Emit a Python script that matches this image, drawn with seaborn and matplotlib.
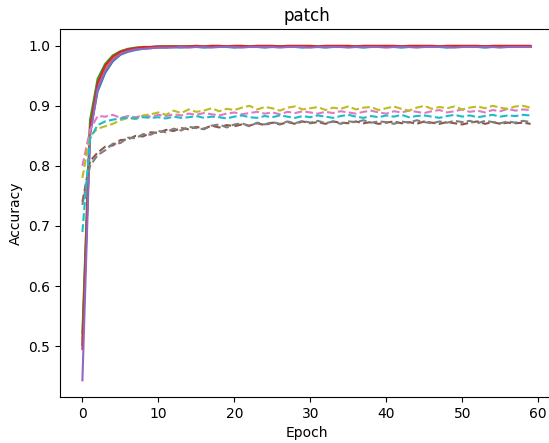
import matplotlib
matplotlib.use("Agg")
import matplotlib.pyplot as plt
import seaborn as sns

epochs = list(range(60))

# training accuracy per run (solid lines)
train_blue = [0.502, 0.855, 0.924, 0.955, 0.974, 0.985, 0.990, 0.993, 0.995, 0.996,
              0.997, 0.997, 0.998, 0.997, 0.998, 0.998, 0.997, 0.998, 0.998, 0.998,
              0.997, 0.998, 0.998, 0.998, 0.997, 0.998, 0.998, 0.998, 0.998, 0.997,
              0.998, 0.998, 0.997, 0.998, 0.998, 0.998, 0.998, 0.997, 0.998, 0.998,
              0.998, 0.998, 0.997, 0.998, 0.998, 0.998, 0.998, 0.998, 0.997, 0.998,
              0.998, 0.998, 0.998, 0.997, 0.998, 0.998, 0.998, 0.998, 0.998, 0.998]
train_orange = [0.512, 0.866, 0.935, 0.963, 0.979, 0.988, 0.993, 0.995, 0.997, 0.998,
                0.998, 0.998, 0.999, 0.998, 0.999, 0.999, 0.998, 0.999, 0.999, 0.999,
                0.998, 0.999, 0.999, 0.999, 0.999, 0.998, 0.999, 0.999, 0.999, 0.999,
                0.999, 0.998, 0.999, 0.999, 0.999, 0.999, 0.999, 0.999, 0.998, 0.999,
                0.999, 0.999, 0.999, 0.999, 0.999, 0.998, 0.999, 0.999, 0.999, 0.999,
                0.999, 0.999, 0.999, 0.999, 0.998, 0.999, 0.999, 0.999, 0.999, 0.999]
train_green = [0.522, 0.876, 0.945, 0.970, 0.984, 0.991, 0.995, 0.997, 0.998, 0.998,
               0.999, 0.999, 0.999, 0.999, 0.999, 0.999, 0.999, 0.999, 0.999, 0.999,
               0.999, 0.999, 0.999, 0.999, 0.999, 0.999, 0.999, 0.999, 0.999, 0.999,
               0.999, 0.999, 0.999, 0.999, 0.999, 0.999, 0.999, 0.999, 0.999, 0.999,
               0.999, 0.999, 0.999, 0.999, 0.999, 0.999, 0.999, 0.999, 0.999, 0.999,
               0.999, 0.999, 0.999, 0.999, 0.999, 0.999, 0.999, 0.999, 0.999, 0.999]
train_red = [0.495, 0.862, 0.938, 0.967, 0.982, 0.990, 0.994, 0.996, 0.998, 0.998,
             0.999, 0.999, 0.999, 0.999, 0.999, 1.000, 0.999, 1.000, 1.000, 0.999,
             1.000, 1.000, 0.999, 1.000, 1.000, 1.000, 0.999, 1.000, 1.000, 1.000,
             1.000, 0.999, 1.000, 1.000, 1.000, 1.000, 0.999, 1.000, 1.000, 1.000,
             1.000, 1.000, 0.999, 1.000, 1.000, 1.000, 1.000, 0.999, 1.000, 1.000,
             1.000, 1.000, 1.000, 0.999, 1.000, 1.000, 1.000, 1.000, 1.000, 1.000]
train_purple = [0.443, 0.850, 0.928, 0.958, 0.976, 0.986, 0.991, 0.994, 0.995, 0.996,
                0.997, 0.997, 0.997, 0.998, 0.997, 0.998, 0.998, 0.997, 0.998, 0.998,
                0.998, 0.997, 0.998, 0.998, 0.998, 0.998, 0.997, 0.998, 0.998, 0.998,
                0.997, 0.998, 0.998, 0.998, 0.998, 0.997, 0.998, 0.998, 0.998, 0.998,
                0.997, 0.998, 0.998, 0.998, 0.997, 0.998, 0.998, 0.998, 0.998, 0.997,
                0.998, 0.998, 0.998, 0.998, 0.998, 0.997, 0.998, 0.998, 0.998, 0.998]

# validation accuracy per run (dashed lines)
val_brown = [0.740, 0.808, 0.822, 0.832, 0.834, 0.843, 0.844, 0.850, 0.849, 0.856,
             0.855, 0.860, 0.858, 0.863, 0.861, 0.865, 0.862, 0.867, 0.864, 0.868,
             0.866, 0.869, 0.867, 0.871, 0.868, 0.872, 0.869, 0.873, 0.870, 0.874,
             0.871, 0.873, 0.870, 0.874, 0.872, 0.871, 0.874, 0.871, 0.873, 0.870,
             0.872, 0.874, 0.871, 0.873, 0.870, 0.874, 0.872, 0.870, 0.873, 0.871,
             0.869, 0.872, 0.874, 0.870, 0.873, 0.870, 0.872, 0.871, 0.872, 0.870]
val_pink = [0.800, 0.860, 0.883, 0.882, 0.885, 0.880, 0.883, 0.881, 0.884, 0.882,
            0.885, 0.883, 0.886, 0.884, 0.887, 0.885, 0.888, 0.886, 0.884, 0.887,
            0.889, 0.886, 0.888, 0.890, 0.887, 0.889, 0.886, 0.890, 0.888, 0.891,
            0.889, 0.887, 0.890, 0.888, 0.891, 0.889, 0.887, 0.890, 0.892, 0.889,
            0.887, 0.891, 0.889, 0.892, 0.890, 0.888, 0.891, 0.893, 0.889, 0.891,
            0.894, 0.890, 0.892, 0.889, 0.893, 0.891, 0.895, 0.892, 0.894, 0.893]
val_gray = [0.735, 0.800, 0.818, 0.826, 0.837, 0.838, 0.847, 0.846, 0.853, 0.852,
            0.858, 0.856, 0.862, 0.859, 0.865, 0.863, 0.861, 0.867, 0.869, 0.864,
            0.869, 0.871, 0.866, 0.872, 0.869, 0.873, 0.870, 0.874, 0.871, 0.875,
            0.872, 0.875, 0.871, 0.874, 0.870, 0.874, 0.873, 0.876, 0.872, 0.874,
            0.873, 0.870, 0.874, 0.872, 0.876, 0.873, 0.871, 0.874, 0.872, 0.875,
            0.873, 0.875, 0.871, 0.875, 0.873, 0.871, 0.874, 0.872, 0.875, 0.873]
val_olive = [0.780, 0.850, 0.862, 0.866, 0.870, 0.876, 0.880, 0.878, 0.884, 0.886,
             0.889, 0.885, 0.892, 0.888, 0.894, 0.890, 0.892, 0.896, 0.891, 0.895,
             0.893, 0.897, 0.900, 0.894, 0.898, 0.896, 0.892, 0.897, 0.899, 0.894,
             0.896, 0.898, 0.893, 0.897, 0.895, 0.899, 0.894, 0.897, 0.898, 0.893,
             0.896, 0.899, 0.895, 0.892, 0.897, 0.900, 0.895, 0.898, 0.896, 0.899,
             0.894, 0.897, 0.899, 0.896, 0.900, 0.897, 0.895, 0.899, 0.900, 0.897]
val_cyan = [0.690, 0.845, 0.868, 0.874, 0.877, 0.879, 0.880, 0.879, 0.881, 0.880,
            0.881, 0.879, 0.882, 0.880, 0.881, 0.883, 0.880, 0.882, 0.881, 0.879,
            0.882, 0.884, 0.881, 0.880, 0.883, 0.881, 0.884, 0.882, 0.880, 0.883,
            0.881, 0.884, 0.882, 0.880, 0.883, 0.885, 0.882, 0.880, 0.883, 0.881,
            0.884, 0.882, 0.885, 0.881, 0.883, 0.884, 0.882, 0.880, 0.883, 0.885,
            0.882, 0.884, 0.881, 0.883, 0.885, 0.882, 0.884, 0.883, 0.885, 0.884]

train_runs = [train_blue, train_orange, train_green, train_red, train_purple]
val_runs = [val_brown, val_pink, val_gray, val_olive, val_cyan]

palette = sns.color_palette("tab10", 10)

fig = plt.figure(figsize=(5.49, 4.43), dpi=100)
# the axes box runs past the right edge of the canvas
ax = fig.add_axes([0.1093, 0.1038, 0.898, 0.8307])

for i, run in enumerate(train_runs):
    sns.lineplot(x=epochs, y=run, ax=ax, color=palette[i], linewidth=1.5)
for i, run in enumerate(val_runs):
    sns.lineplot(x=epochs, y=run, ax=ax, color=palette[5 + i], linewidth=1.5,
                 linestyle="--")

ax.set_xlim(-2.95, 61.95)
ax.set_ylim(0.4152, 1.0279)
ax.set_xticks([0, 10, 20, 30, 40, 50, 60])
ax.set_yticks([0.5, 0.6, 0.7, 0.8, 0.9, 1.0])
ax.spines["right"].set_visible(False)
ax.set_title("patch")
ax.set_xlabel("Epoch")
ax.set_ylabel("Accuracy")

fig.savefig("out.png", dpi=100)
